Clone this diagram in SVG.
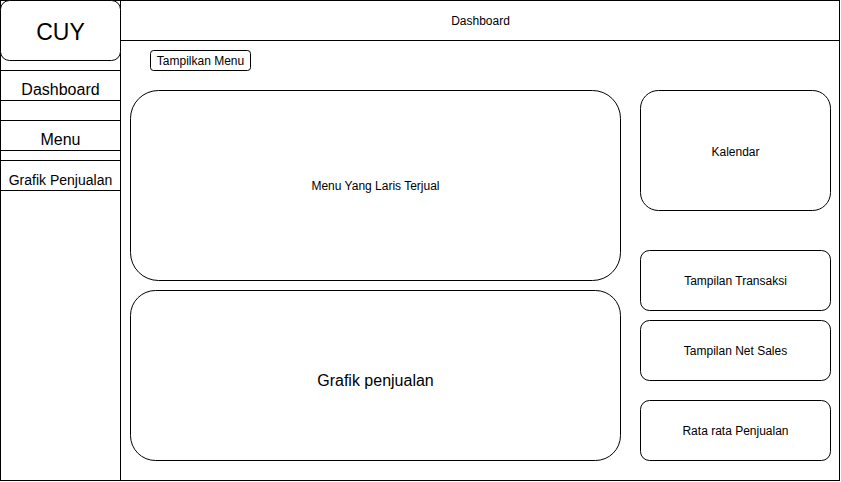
<svg xmlns="http://www.w3.org/2000/svg" width="841" height="482" viewBox="0 0 841 482">
<style>
.s{fill:#fff;stroke:#000;stroke-width:1}
.l{fill:none;stroke:#000;stroke-width:1}
text{font-family:"Liberation Sans",Arial,sans-serif;fill:#000;text-anchor:middle}
.f12{font-size:12px}
.f14{font-size:14px}
.f16{font-size:16px}
.f23{font-size:23px}
</style>
<rect width="841" height="482" fill="#fff"/>
<g transform="translate(0.5,0.5)">
<g id="frame">
<rect class="s" x="0" y="0" width="839" height="480"/>
<line class="l" x1="120" y1="0" x2="120" y2="480"/>
<line class="l" x1="120" y1="40" x2="839" y2="40"/>
</g>
<g id="topbar"><text class="f12" x="480" y="24">Dashboard</text></g>
<g id="logo"><rect class="s" x="0" y="0" width="120" height="60" rx="9"/><text class="f23" x="60" y="39">CUY</text></g>
<g id="nav-dashboard"><rect class="s" x="0" y="70" width="120" height="30"/><text class="f16" x="60" y="94">Dashboard</text></g>
<g id="nav-menu"><rect class="s" x="0" y="120" width="120" height="30"/><text class="f16" x="60" y="144">Menu</text></g>
<g id="nav-grafik"><rect class="s" x="0" y="160" width="120" height="30"/><text class="f14" x="60" y="184">Grafik Penjualan</text></g>
<g id="btn-tampilkan"><rect class="s" x="150" y="50" width="100" height="20" rx="3"/><text class="f12" x="200" y="64">Tampilkan Menu</text></g>
<g id="menu-laris"><rect class="s" x="130" y="90" width="490" height="190" rx="28"/><text class="f12" x="375" y="189">Menu Yang Laris Terjual</text></g>
<g id="grafik"><rect class="s" x="130" y="290" width="490" height="170" rx="25"/><text class="f16" x="375" y="385">Grafik penjualan</text></g>
<g id="kalendar"><rect class="s" x="640" y="90" width="190" height="120" rx="18"/><text class="f12" x="735" y="155">Kalendar</text></g>
<g id="transaksi"><rect class="s" x="640" y="250" width="190" height="60" rx="9"/><text class="f12" x="735" y="284">Tampilan Transaksi</text></g>
<g id="netsales"><rect class="s" x="640" y="320" width="190" height="60" rx="9"/><text class="f12" x="735" y="354">Tampilan Net Sales</text></g>
<g id="rata"><rect class="s" x="640" y="400" width="190" height="60" rx="9"/><text class="f12" x="735" y="434">Rata rata Penjualan</text></g>
<g id="connectors"></g>
</g>
</svg>
